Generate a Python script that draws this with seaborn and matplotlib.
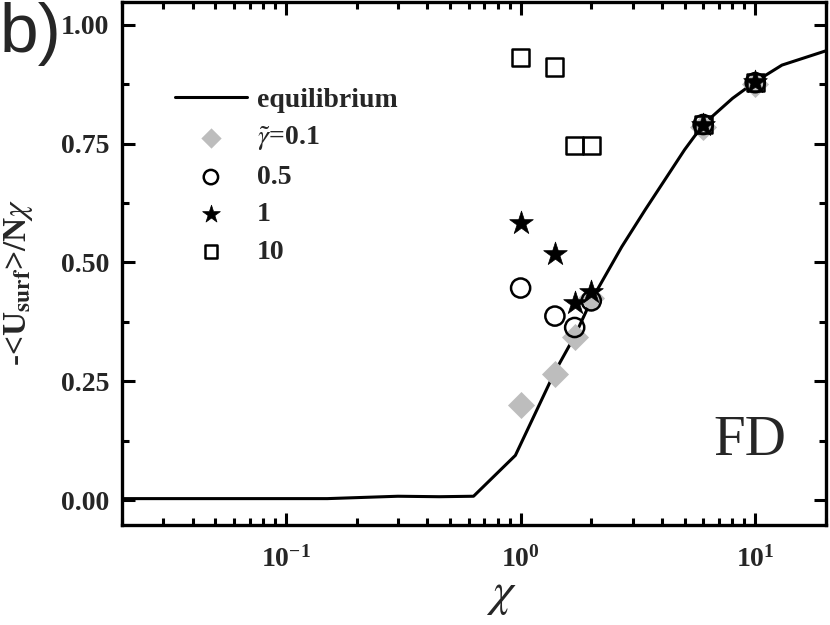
import numpy as np
import pandas as pd
import matplotlib
matplotlib.use("Agg")
import matplotlib.pyplot as plt
import matplotlib.ticker as mticker
import seaborn as sns

# equilibrium curve
eq_chi = [0.02, 0.05, 0.1, 0.15, 0.3, 0.45, 0.63, 0.95, 1.2, 1.4, 1.7, 2.0,
          2.7, 3.4, 4.2, 5.0, 6.0, 8.0, 10.0, 13.0, 20.0]
eq_u = [0.003, 0.003, 0.003, 0.003, 0.008, 0.007, 0.008, 0.094, 0.20, 0.27,
        0.345, 0.42, 0.533, 0.611, 0.68, 0.737, 0.79, 0.845, 0.88, 0.915, 0.945]

# simulation points
chi = [1.0, 1.4, 1.7, 2.0, 6.0, 10.0]
u_g01 = [0.200, 0.266, 0.343, 0.424, 0.785, 0.876]
u_g05 = [0.446, 0.387, 0.363, 0.419, 0.790, 0.878]
u_g1 = [0.583, 0.518, 0.415, 0.437, 0.790, 0.879]
u_g10 = [0.931, 0.911, 0.745, 0.745, 0.791, 0.878]

sns.set_style("ticks")
plt.rcParams["font.family"] = ["Liberation Serif", "DejaVu Serif"]
plt.rcParams["mathtext.fontset"] = "stix"

fig = plt.figure(figsize=(8.3, 6.25), dpi=100)
ax = fig.add_axes([0.147, 0.16, 0.848, 0.837])

eq = pd.DataFrame({"chi": eq_chi, "u": eq_u})
sns.lineplot(data=eq, x="chi", y="u", ax=ax, color="black", lw=2.2,
             label="equilibrium", zorder=2)

series = [
    (u_g01, r"$\tilde{\gamma}$=0.1", "D", "#bdbdbd", "#bdbdbd", 190, 0),
    (u_g05, "0.5", "o", "none", "black", 190, 1.8),
    (u_g1, "1", "*", "black", "black", 320, 0.5),
    (u_g10, "10", "s", "none", "black", 150, 1.8),
]
for vals, lab, mk, fc, ec, s, lw in series:
    df = pd.DataFrame({"chi": chi, "u": vals})
    sns.scatterplot(data=df, x="chi", y="u", ax=ax, marker=mk, s=s,
                    facecolor=fc, edgecolor=ec, linewidth=lw, label=lab,
                    zorder=3)

ax.set_xscale("log")
ax.set_xlim(0.02, 20)
ax.set_ylim(-0.0525, 1.048)
ax.yaxis.set_major_locator(mticker.MultipleLocator(0.25))
ax.yaxis.set_minor_locator(mticker.MultipleLocator(0.125))
ax.yaxis.set_major_formatter(mticker.FormatStrFormatter("%.2f"))
ax.xaxis.set_major_locator(mticker.LogLocator(base=10, numticks=10))
ax.xaxis.set_minor_locator(mticker.LogLocator(base=10, subs=np.arange(2, 10), numticks=10))

for sp in ax.spines.values():
    sp.set_linewidth(2.4)
    sp.set_color("black")
ax.tick_params(which="both", direction="in", top=True, right=True,
               width=2.2, color="black")
ax.tick_params(which="major", length=9, labelsize=20)
ax.tick_params(axis="x", which="major", pad=15)
ax.tick_params(axis="y", which="major", pad=9)
ax.tick_params(which="minor", length=5)
for t in ax.get_xticklabels() + ax.get_yticklabels():
    t.set_fontweight("bold")

ax.set_xlabel("χ", fontsize=34, family="STIXGeneral", style="italic")
ax.xaxis.set_label_coords(0.54, -0.09)
ax.set_ylabel(r"-<U$_{\mathbf{surf}}$>/N$\chi$", fontsize=24, fontweight="bold")
ax.yaxis.set_label_coords(-0.124, 0.465)

ax.text(0.892, 0.16, "FD", transform=ax.transAxes, fontsize=41,
        ha="center", va="center")
fig.text(0.0, 0.997, "b)", fontsize=50, ha="left", va="top",
         family="Liberation Sans")

leg = ax.legend(loc="upper left", bbox_to_anchor=(0.075, 0.836), frameon=False,
                handlelength=2.6, handletextpad=0.35, labelspacing=0.42,
                markerscale=0.75, borderaxespad=0, borderpad=0,
                prop={"weight": "bold", "size": 20})

fig.savefig("out.png", dpi=100)
